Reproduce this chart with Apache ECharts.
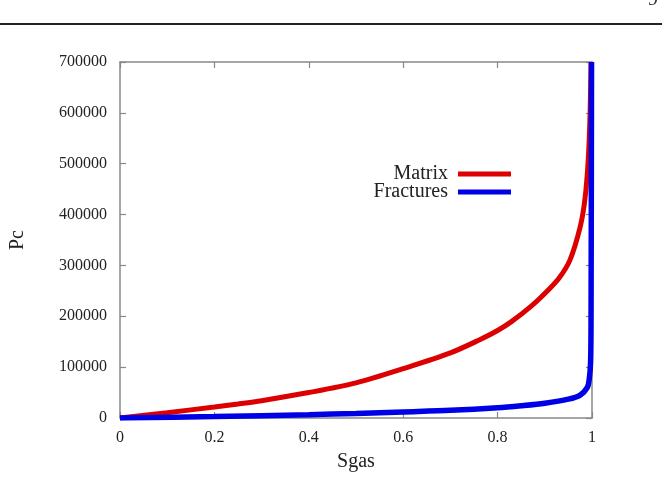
<!DOCTYPE html>
<html>
<head>
<meta charset="utf-8">
<script src="https://cdn.jsdelivr.net/npm/echarts@6/dist/echarts.min.js"></script>
<style>
  html, body { margin: 0; padding: 0; background: #fff; }
  #chart { width: 665px; height: 478px; }
</style>
</head>
<body>
<div id="chart"></div>
<script>
// values
var matrixSgas = [0, 0.1, 0.2, 0.25, 0.3, 0.4, 0.5, 0.6, 0.7, 0.76, 0.8, 0.83, 0.87, 0.9, 0.93, 0.953, 0.975, 0.985, 0.992, 0.996, 0.998];
var matrixPc   = [0, 10500, 21600, 27500, 34000, 50000, 69000, 97000, 128000, 153000, 172000, 190000, 219000, 245000, 275000, 310000, 376000, 430000, 507000, 600000, 700000];
var fracSgas = [0, 0.2, 0.4, 0.5, 0.6, 0.7, 0.8, 0.85, 0.9, 0.95, 0.975, 0.99, 0.994, 0.997, 0.998, 0.999];
var fracPc   = [0, 3000, 6500, 9000, 12000, 15000, 20000, 24000, 29000, 37000, 45000, 60000, 75000, 110000, 200000, 700000];
var xTicks = [0, 0.2, 0.4, 0.6, 0.8, 1];
var yTicks = [0, 100000, 200000, 300000, 400000, 500000, 600000, 700000];

var serif = '"Liberation Serif", "DejaVu Serif", serif';

function pairs(xs, ys) {
  var out = [];
  for (var i = 0; i < xs.length; i++) out.push([xs[i], ys[i]]);
  return out;
}

var myChart = echarts.init(document.getElementById('chart'));

var axisLine = { show: true, onZero: false, lineStyle: { color: '#888', width: 1.5 } };
var tick = { show: true, inside: true, length: 6, lineStyle: { color: '#888', width: 1.2 } };

myChart.setOption({
  animation: false,
  grid: { left: 120, right: 73, top: 62, bottom: 60 },
  xAxis: [
    {
      type: 'value', min: 0, max: 1, interval: 0.2,
      name: 'Sgas', nameLocation: 'middle', nameGap: 34,
      nameTextStyle: { fontFamily: serif, fontSize: 20, color: '#222' },
      axisLine: axisLine, axisTick: tick, splitLine: { show: false },
      axisLabel: { fontFamily: serif, fontSize: 16, color: '#222', margin: 12,
        formatter: function (v) { return xTicks.indexOf(+v.toFixed(1)) >= 0 ? String(+v.toFixed(1)) : ''; } }
    },
    {
      type: 'value', min: 0, max: 1, interval: 0.2, position: 'top',
      axisLine: axisLine, axisTick: tick, axisLabel: { show: false }, splitLine: { show: false }
    }
  ],
  yAxis: [
    {
      type: 'value', min: 0, max: 700000, interval: 100000,
      name: 'Pc', nameLocation: 'middle', nameGap: 92, nameRotate: 90,
      nameTextStyle: { fontFamily: serif, fontSize: 20, color: '#222' },
      axisLine: axisLine, axisTick: tick, splitLine: { show: false },
      axisLabel: { fontFamily: serif, fontSize: 16, color: '#222', margin: 13,
        formatter: function (v) { return yTicks.indexOf(v) >= 0 ? String(v) : ''; } }
    },
    {
      type: 'value', min: 0, max: 700000, interval: 100000, position: 'right',
      axisLine: axisLine, axisTick: tick, axisLabel: { show: false }, splitLine: { show: false }
    }
  ],
  legend: {
    orient: 'vertical', align: 'right',
    right: 149, top: 159, padding: 5,
    itemGap: -2, itemWidth: 53, itemHeight: 5, icon: 'rect',
    textStyle: { fontFamily: serif, fontSize: 20, color: '#222', lineHeight: 18, width: 85, align: 'right', padding: [0, 5, 0, 0] },
    data: ['Matrix', 'Fractures']
  },
  series: [
    {
      name: 'Matrix', type: 'line', smooth: 0.3, showSymbol: false,
      data: pairs(matrixSgas, matrixPc),
      lineStyle: { color: '#dd0000', width: 5 }, itemStyle: { color: '#dd0000' }
    },
    {
      name: 'Fractures', type: 'line', smooth: 0.3, showSymbol: false,
      data: pairs(fracSgas, fracPc),
      lineStyle: { color: '#0000e6', width: 5.5 }, itemStyle: { color: '#0000e6' }
    }
  ],
  graphic: [
    { type: 'line', shape: { x1: 0, y1: 24, x2: 662, y2: 24 }, style: { stroke: '#222', lineWidth: 2 } },
    { type: 'text', x: 648, y: 10, style: { text: '9', font: '20px "Liberation Serif"', fill: '#333', verticalAlign: 'bottom' } }
  ]
});
</script>
</body>
</html>
